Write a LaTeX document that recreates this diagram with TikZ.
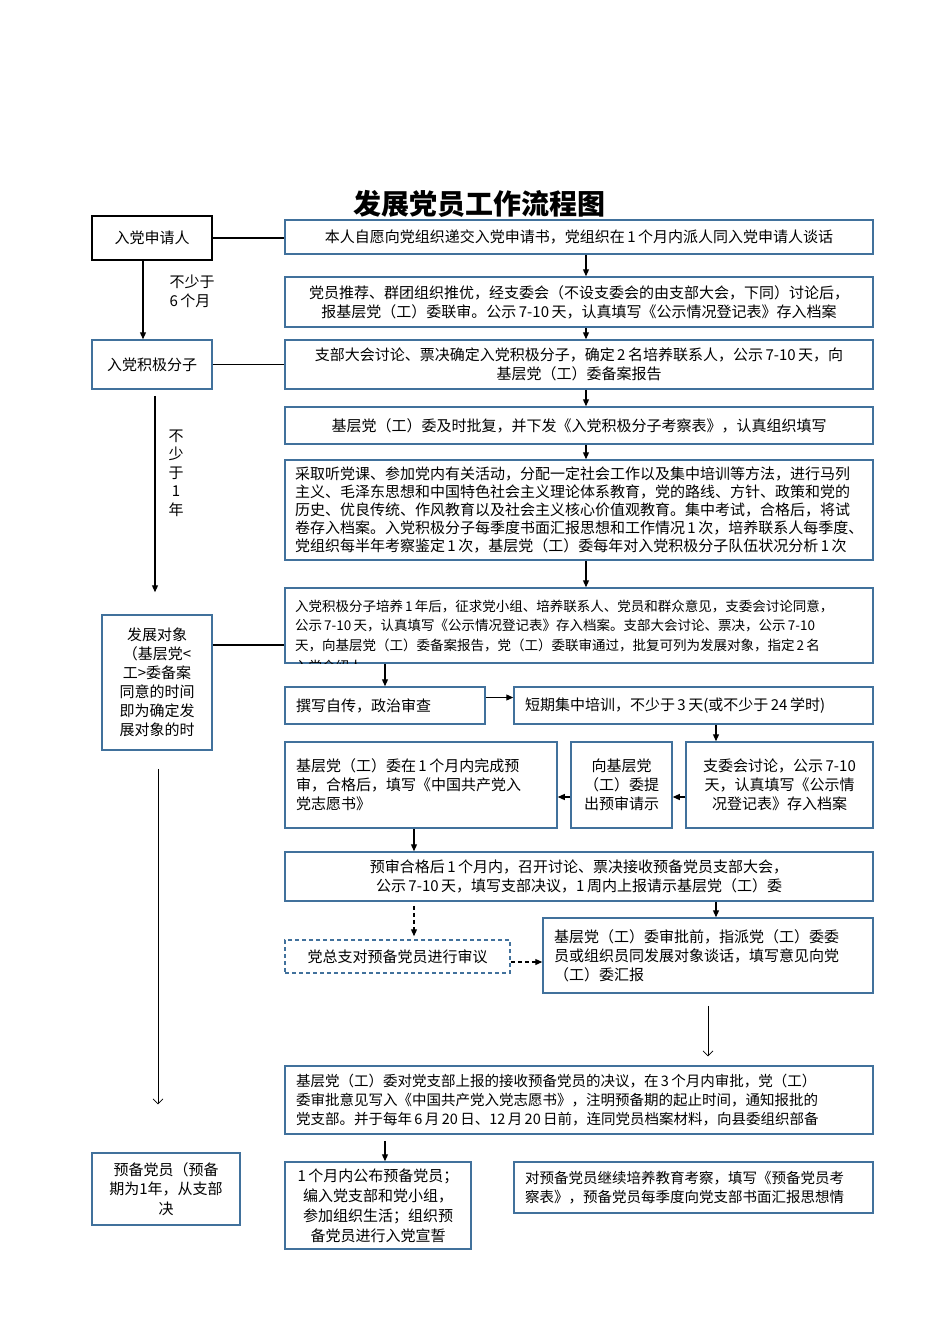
\documentclass[tikz,border=0pt]{standalone}
\usepackage{fontspec}
\setmainfont{Liberation Serif}
\newfontfamily\cjk{Noto Sans CJK SC}
\usetikzlibrary{arrows.meta}
\definecolor{boxblue}{RGB}{65,113,156}
\begin{document}
\begin{tikzpicture}[x=1pt,y=-1pt,
  every node/.style={font=\cjk\fontsize{15}{19}\selectfont},
  card/.style={draw=boxblue,line width=1.5pt,inner xsep=10pt,inner ysep=2pt,align=center},
  cardl/.style={card,align=left},
  flow/.style={-{Triangle[length=7pt,width=6pt]},line width=1.2pt},
  longflow/.style={-{Straight Barb[length=5pt,width=10pt]},line width=0.7pt},
  dashflow/.style={flow,dash pattern=on 4pt off 3pt}]
\fill[white] (0,0) rectangle (950,1344);
\useasboundingbox (0,0) rectangle (950,1344);
% title
\node[font=\cjk\bfseries\fontsize{28}{30}\selectfont] (title) at (479,204) {发展党员工作流程图};
% left column: stages
\node[card,draw=black,text width=100,minimum height=44] (apply) at (152,238) {入党申请人};
\node[card,text width=100,minimum height=49] (active) at (152,364.5) {入党积极分子};
\node[card,inner xsep=8pt,text width=94,minimum height=135] (target) at (157,682.5) {发展对象\\（基层党<\\工>委备案\\同意的时间\\即为确定发\\展对象的时};
\node[card,text width=128,minimum height=72,font=\cjk\fontsize{15}{19.5}\selectfont] (prob) at (166,1189) {预备党员（预备\\期为1年，从支部\\决};
\node[align=left] (sixmon) at (192,291) {不少于\\6\,个月};
\node[align=center,font=\cjk\fontsize{15}{18.5}\selectfont] (oneyear) at (176,473) {不\\少\\于\\1\\年};
% right column: steps
\node[card,text width=568,minimum height=34] (s1) at (579,237) {本人自愿向党组织递交入党申请书，党组织在\,1\,个月内派人同入党申请人谈话};
\node[card,text width=568,minimum height=50] (s2) at (579,302) {党员推荐、群团组织推优，经支委会（不设支委会的由支部大会，下同）讨论后，\\报基层党（工）委联审。公示\,7-10\,天，认真填写《公示情况登记表》存入档案};
\node[card,text width=568,minimum height=49] (s3) at (579,364.5) {支部大会讨论、票决确定入党积极分子，确定\,2\,名培养联系人，公示\,7-10\,天，向\\基层党（工）委备案报告};
\node[card,text width=568,minimum height=37] (s4) at (579,425.5) {基层党（工）委及时批复，并下发《入党积极分子考察表》，认真组织填写};
\node[cardl,text width=568,minimum height=100,font=\cjk\fontsize{15}{18}\selectfont] (s5) at (579,510) {采取听党课、参加党内有关活动，分配一定社会工作以及集中培训等方法，进行马列\\主义、毛泽东思想和中国特色社会主义理论体系教育，党的路线、方针、政策和党的\\历史、优良传统、作风教育以及社会主义核心价值观教育。集中考试，合格后，将试\\卷存入档案。入党积极分子每季度书面汇报思想和工作情况\,1\,次，培养联系人每季度、\\党组织每半年考察鉴定\,1\,次，基层党（工）委每年对入党积极分子队伍状况分析\,1\,次};
\node[cardl,text width=568,minimum height=75,font=\cjk\fontsize{13.5}{19.5}\selectfont] (s6) at (579,625.5) {入党积极分子培养\,1\,年后，征求党小组、培养联系人、党员和群众意见，支委会讨论同意，\\公示\,7-10\,天，认真填写《公示情况登记表》存入档案。支部大会讨论、票决，公示\,7-10\\天，向基层党（工）委备案报告，党（工）委联审通过，批复可列为发展对象，指定\,2\,名};
\begin{scope}
\clip (s6.south west) rectangle (s6.north east);
\node[anchor=base west,inner sep=0pt,font=\cjk\fontsize{13.5}{19.5}\selectfont] (s6cut) at (295,671.5) {入党介绍人};
\end{scope}
\node[cardl,inner xsep=11pt,text width=178,minimum height=37] (s7) at (385,705.5) {撰写自传，政治审查};
\node[cardl,inner xsep=11pt,text width=337,minimum height=37] (s8) at (693.5,705.5) {短期集中培训，不少于\,3\,天(或不少于\,24\,学时)};
\node[cardl,inner xsep=11pt,text width=250,minimum height=86] (s9) at (421,785) {基层党（工）委在\,1\,个月内完成预\\审，合格后，填写《中国共产党入\\党志愿书》};
\node[card,inner xsep=8pt,text width=85,minimum height=86] (s10) at (621.5,785) {向基层党\\（工）委提\\出预审请示};
\node[card,text width=167,minimum height=86] (s11) at (779.5,785) {支委会讨论，公示\,7-10\\天，认真填写《公示情\\况登记表》存入档案};
\node[card,text width=568,minimum height=49] (s12) at (579,876.5) {预审合格后\,1\,个月内，召开讨论、票决接收预备党员支部大会，\\公示\,7-10\,天，填写支部决议，1\,周内上报请示基层党（工）委};
\node[card,dash pattern=on 4pt off 3pt,text width=205,minimum height=33] (s13) at (397.5,956.5) {党总支对预备党员进行审议};
\node[cardl,inner xsep=11pt,text width=308,minimum height=75] (s14) at (708,955.5) {基层党（工）委审批前，指派党（工）委委\\员或组织员同发展对象谈话，填写意见向党\\（工）委汇报};
\node[cardl,inner xsep=11pt,text width=566,minimum height=68,font=\cjk\fontsize{14.5}{19}\selectfont] (s15) at (579,1100) {基层党（工）委对党支部上报的接收预备党员的决议，在\,3\,个月内审批，党（工）\\委审批意见写入《中国共产党入党志愿书》，注明预备期的起止时间，通知报批的\\党支部。并于每年\,6\,月\,20\,日、12\,月\,20\,日前，连同党员档案材料，向县委组织部备};
\node[card,text width=166,minimum height=87,font=\cjk\fontsize{15}{20}\selectfont] (s16) at (378,1205.5) {1\,个月内公布预备党员；\\编入党支部和党小组，\\参加组织生活；组织预\\备党员进行入党宣誓};
\node[cardl,inner xsep=11pt,text width=337,minimum height=51,font=\cjk\fontsize{14.5}{19}\selectfont] (s17) at (693.5,1187.5) {对预备党员继续培养教育考察，填写《预备党员考\\察表》，预备党员每季度向党支部书面汇报思想情};
% links between stages and steps
\draw[line width=1.2pt] (apply.east) -- (apply.east -| s1.west);
\draw[line width=1.2pt] (active.east) -- (s3.west);
\draw[line width=1.2pt] ([yshift=37.5pt]target.east) -- ([yshift=37.5pt]target.east -| s6.west);
\draw[flow] ([xshift=-9pt]apply.south) -- ([xshift=-9pt]active.north);
\draw[flow] ([xshift=3pt,yshift=-6pt]active.south) -- ([xshift=-2pt,yshift=22pt]target.north);
\draw[longflow] ([xshift=1pt,yshift=-18pt]target.south) -- ([xshift=-8pt,yshift=48pt]prob.north);
% main flow
\foreach \a/\b in {s1/s2,s2/s3,s3/s4,s4/s5,s5/s6}
  \draw[flow] ([xshift=7pt]\a.south) -- ([xshift=7pt]\b.north);
\draw[flow] (s6.south -| s7.north) -- (s7.north);
\draw[flow] ([yshift=8pt]s7.east) -- ([yshift=8pt]s8.west);
\draw[flow] ([xshift=22.5pt]s8.south) -- ([xshift=-63.5pt]s11.north);
\draw[flow] ([yshift=-12pt]s11.west) -- ([yshift=-12pt]s10.east);
\draw[flow] ([yshift=-12pt]s10.west) -- ([yshift=-12pt]s9.east);
\draw[flow] ([xshift=-7pt]s9.south) -- ([xshift=-165pt]s12.north);
\draw[dashflow] ([xshift=-165pt,yshift=-4pt]s12.south) -- ([xshift=16.5pt,yshift=3pt]s13.north);
\draw[flow] ([xshift=137pt]s12.south) -- ([xshift=8pt]s14.north);
\draw[dashflow] ([yshift=-5.5pt]s13.east) -- ([yshift=-6.5pt]s14.west);
\draw[longflow] ([yshift=-12pt]s14.south) -- ([xshift=129pt,yshift=9pt]s15.north);
\draw[flow] ([xshift=-194pt,yshift=-6pt]s15.south) -- ([xshift=7pt]s16.north);
\end{tikzpicture}
\end{document}
